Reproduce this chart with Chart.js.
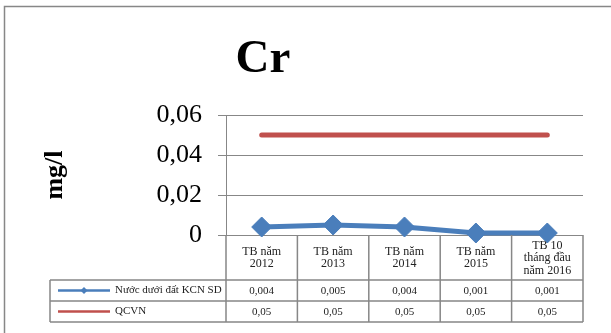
<!DOCTYPE html>
<html>
<head>
<meta charset="utf-8">
<script src="https://cdn.jsdelivr.net/npm/chart.js@4"></script>
<style>
  body { margin: 0; background: #fff; }
</style>
</head>
<body>
<canvas id="chart" width="611" height="333"></canvas>
<script>
const chartTitle = 'Cr';
const yTitle = 'mg/l';
const categories = [
    ['TB năm', '2012'],
    ['TB năm', '2013'],
    ['TB năm', '2014'],
    ['TB năm', '2015'],
    ['TB 10', 'tháng đầu', 'năm 2016']
];
const seriesNames = ['Nước dưới đất KCN SD', 'QCVN'];
const groundwater = [0.004, 0.005, 0.004, 0.001, 0.001];
const qcvn = [0.05, 0.05, 0.05, 0.05, 0.05];
const yMin = 0, yMax = 0.06, yStep = 0.02;

const blue = '#4a7ebb';
const red = '#c0504d';
const gridGray = '#878787';
const serif = '"Liberation Serif", "Times New Roman", serif';

const fmt = v => String(v).replace('.', ',');

// frame, title and the data table under the plot
const tablePlugin = {
    id: 'tablePlugin',
    beforeDraw(chart) {
        const c = chart.ctx;
        c.save();
        c.fillStyle = '#fff';
        c.fillRect(0, 0, chart.width, chart.height);
        c.strokeStyle = gridGray;
        c.lineWidth = 1.5;
        c.strokeRect(4.5, 6.5, 800, 500);
        c.fillStyle = '#000';
        c.font = 'bold 47px ' + serif;
        c.textAlign = 'center';
        c.textBaseline = 'alphabetic';
        c.fillText(chartTitle, 263, 72);
        c.restore();
    },
    afterDraw(chart) {
        const c = chart.ctx;
        const xs = chart.scales.x;
        const half = (xs.getPixelForValue(1) - xs.getPixelForValue(0)) / 2;
        const top = chart.chartArea.bottom;
        const hdrBottom = top + 45;
        const rowH = 21;
        const tableLeft = 50;
        const colLeft = xs.getPixelForValue(0) - half;
        const colRight = xs.getPixelForValue(categories.length - 1) + half;

        c.save();
        c.strokeStyle = gridGray;
        c.lineWidth = 1.5;
        c.beginPath();
        for (let i = 0; i <= categories.length; i++) {
            const x = colLeft + i * 2 * half;
            c.moveTo(x, top);
            c.lineTo(x, hdrBottom + 2 * rowH);
        }
        c.moveTo(tableLeft, hdrBottom);
        c.lineTo(tableLeft, hdrBottom + 2 * rowH);
        for (let r = 0; r <= 2; r++) {
            c.moveTo(tableLeft, hdrBottom + r * rowH);
            c.lineTo(colRight, hdrBottom + r * rowH);
        }
        c.stroke();

        c.fillStyle = '#222';
        c.textAlign = 'center';
        c.textBaseline = 'middle';
        c.font = '12px ' + serif;
        const lh = 12.5;
        categories.forEach((lines, i) => {
            const x = xs.getPixelForValue(i);
            const y0 = top + 23 - (lines.length - 1) * lh / 2;
            lines.forEach((t, k) => c.fillText(t, x, y0 + k * lh));
        });

        c.font = '11px ' + serif;
        chart.data.datasets.forEach((ds, r) => {
            const y = hdrBottom + r * rowH + rowH / 2;
            ds.data.forEach((v, i) => c.fillText(fmt(v), xs.getPixelForValue(i), y + 1));
            // legend key
            c.strokeStyle = ds.borderColor;
            c.lineWidth = 2.5;
            c.beginPath();
            c.moveTo(58, y);
            c.lineTo(110, y);
            c.stroke();
            if (r === 0) {
                c.fillStyle = ds.borderColor;
                c.beginPath();
                c.moveTo(84, y - 3.5);
                c.lineTo(87.5, y);
                c.lineTo(84, y + 3.5);
                c.lineTo(80.5, y);
                c.closePath();
                c.fill();
            }
            c.fillStyle = '#222';
            c.textAlign = 'left';
            c.fillText(ds.label, 115, y);
            c.textAlign = 'center';
        });
        c.restore();
    }
};

new Chart(document.getElementById('chart'), {
    type: 'line',
    data: {
        labels: categories,
        datasets: [
            {
                label: seriesNames[0],
                data: groundwater,
                borderColor: blue,
                backgroundColor: blue,
                borderWidth: 5,
                pointStyle: 'rectRot',
                pointRadius: 10,
                pointBorderWidth: 1,
                clip: false
            },
            {
                label: seriesNames[1],
                data: qcvn,
                borderColor: red,
                backgroundColor: red,
                borderWidth: 5,
                borderCapStyle: 'round',
                pointRadius: 0,
                clip: false
            }
        ]
    },
    options: {
        responsive: false,
        animation: false,
        layout: { padding: { top: 115, bottom: 98, left: 20, right: 28 } },
        plugins: {
            legend: { display: false },
            title: { display: false },
            tooltip: { enabled: false }
        },
        scales: {
            x: {
                display: false,
                offset: true
            },
            y: {
                min: yMin,
                max: yMax,
                afterFit(scale) { scale.width = 206; },
                ticks: {
                    stepSize: yStep,
                    padding: 16,
                    color: '#000',
                    font: { family: serif, size: 26 },
                    callback: v => v === 0 ? '0' : v.toFixed(2).replace('.', ',')
                },
                grid: { color: gridGray, tickLength: 8 },
                border: { color: gridGray },
                title: {
                    display: true,
                    text: yTitle,
                    color: '#000',
                    font: { family: serif, size: 26, weight: 'bold' },
                    padding: { top: 20, bottom: 0 }
                }
            }
        }
    },
    plugins: [tablePlugin]
});
</script>
</body>
</html>
